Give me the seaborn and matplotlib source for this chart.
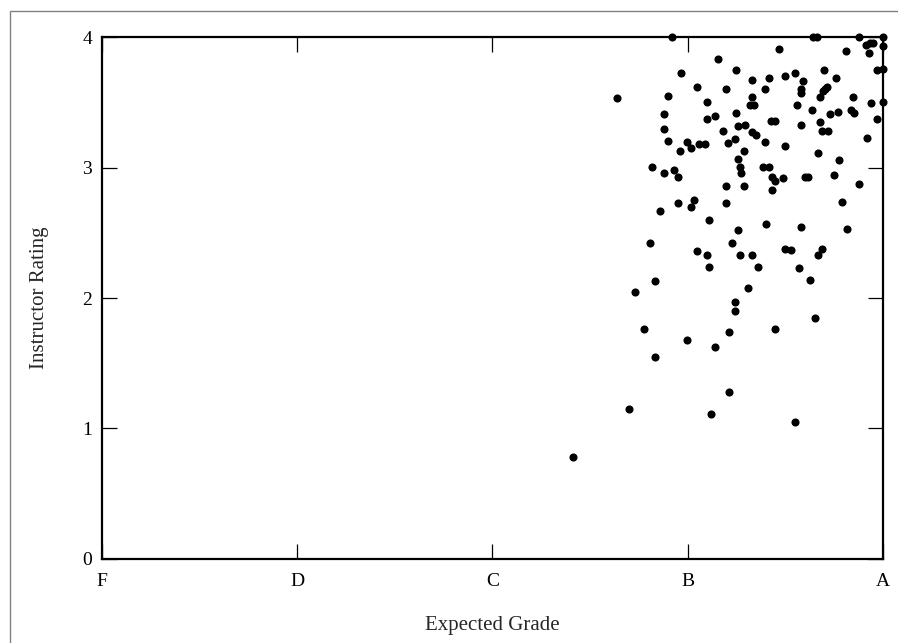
import numpy as np
import pandas as pd
import seaborn as sns
import matplotlib.pyplot as plt
from matplotlib.patches import Rectangle

# Expected grade (F=0 ... A=4) and instructor rating
grade = [2.919, 3.644, 3.661, 3.879, 4.00, 3.470, 3.809, 3.914, 3.934, 3.951,
         3.930, 4.00, 3.157, 2.966, 3.249, 3.550, 3.700, 3.968, 4.00, 3.499,
         3.418, 3.330, 3.589, 3.758, 3.050, 3.197, 3.398, 3.581, 3.581, 3.704,
         3.715, 3.695, 2.637, 2.900, 3.678, 3.330, 3.848, 3.098, 3.320, 3.340,
         3.560, 3.939, 4.00, 3.249, 2.879, 3.139, 3.098, 3.638, 3.838, 3.852,
         3.769, 3.728, 3.968, 3.425, 3.449, 3.679, 3.256, 3.294, 3.579, 2.879,
         3.180, 3.687, 3.720, 3.331, 3.350, 3.919, 2.900, 2.998, 3.019, 3.058,
         3.089, 3.208, 3.241, 3.398, 3.499, 2.960, 3.289, 3.668, 3.258, 3.777,
         3.268, 3.272, 2.816, 2.879, 2.930, 2.949, 3.388, 3.418, 3.430, 3.445,
         3.489, 3.601, 3.614, 3.750, 3.197, 3.289, 3.431, 3.879, 2.949, 3.031,
         3.019, 3.198, 3.789, 2.860, 3.110, 3.399, 3.579, 3.818, 3.258, 2.809,
         3.227, 3.050, 3.099, 3.270, 3.330, 3.499, 3.529, 3.690, 3.668, 3.110,
         3.360, 3.569, 3.628, 2.832, 3.311, 2.729, 3.241, 3.241, 3.651, 2.778,
         3.448, 3.210, 2.998, 3.139, 2.832, 3.210, 2.700, 3.120, 3.550, 2.413]
rating = [4.00, 4.00, 4.00, 4.00, 4.00, 3.912, 3.900, 3.942, 3.960, 3.960,
          3.879, 3.931, 3.833, 3.730, 3.751, 3.730, 3.751, 3.751, 3.758, 3.704,
          3.691, 3.671, 3.668, 3.691, 3.622, 3.602, 3.602, 3.602, 3.576, 3.602,
          3.622, 3.592, 3.533, 3.549, 3.546, 3.541, 3.543, 3.503, 3.482, 3.482,
          3.482, 3.500, 3.503, 3.423, 3.411, 3.400, 3.374, 3.441, 3.444, 3.423,
          3.431, 3.411, 3.372, 3.361, 3.361, 3.354, 3.318, 3.331, 3.328, 3.295,
          3.285, 3.285, 3.285, 3.277, 3.249, 3.231, 3.203, 3.196, 3.150, 3.183,
          3.183, 3.193, 3.221, 3.200, 3.167, 3.131, 3.131, 3.111, 3.065, 3.060,
          3.008, 2.962, 3.004, 2.958, 2.983, 2.932, 3.004, 3.004, 2.929, 2.902,
          2.922, 2.926, 2.932, 2.941, 2.863, 2.863, 2.828, 2.878, 2.730, 2.753,
          2.701, 2.730, 2.740, 2.671, 2.603, 2.569, 2.548, 2.530, 2.521, 2.421,
          2.421, 2.361, 2.328, 2.331, 2.328, 2.379, 2.371, 2.377, 2.328, 2.239,
          2.239, 2.229, 2.139, 2.129, 2.080, 2.047, 1.968, 1.899, 1.850, 1.763,
          1.763, 1.742, 1.681, 1.625, 1.550, 1.282, 1.151, 1.113, 1.051, 0.780]

grade_ticks = [0, 1, 2, 3, 4]
grade_labels = ["F", "D", "C", "B", "A"]
rating_ticks = [0, 1, 2, 3, 4]

df = pd.DataFrame({"Expected Grade": grade, "Instructor Rating": rating})

sns.set_style("ticks")
plt.rcParams["font.family"] = ["Liberation Serif", "DejaVu Serif"]

fig = plt.figure(figsize=(8.98, 6.43), dpi=100)
ax = fig.add_axes([0.1133, 0.1311, 0.8700, 0.8106])

sns.scatterplot(data=df, x="Expected Grade", y="Instructor Rating", ax=ax,
                color="black", s=34, linewidth=0, clip_on=False, zorder=3)

ax.set_xlim(0, 4)
ax.set_ylim(0, 4)
ax.set_xticks(grade_ticks)
ax.set_xticklabels(grade_labels)
ax.set_yticks(rating_ticks)

for side in ["left", "right", "top", "bottom"]:
    ax.spines[side].set_linewidth(1.6)
    ax.spines[side].set_color("black")
ax.tick_params(direction="in", length=11, width=0.9, top=True, right=True,
               labelsize=14, colors="black")
ax.tick_params(axis="x", pad=10)
ax.tick_params(axis="y", pad=7)

ax.set_xlabel("Expected Grade", fontsize=15, labelpad=19)
ax.set_ylabel("Instructor Rating", fontsize=15, labelpad=24)

# thin grey frame round the picture
fig.patches.append(Rectangle((10 / 898, -0.1), 1.2, 1.1 - 11 / 643,
                             transform=fig.transFigure, fill=False,
                             edgecolor="#808080", linewidth=1))

fig.savefig("out.png", dpi=100)
